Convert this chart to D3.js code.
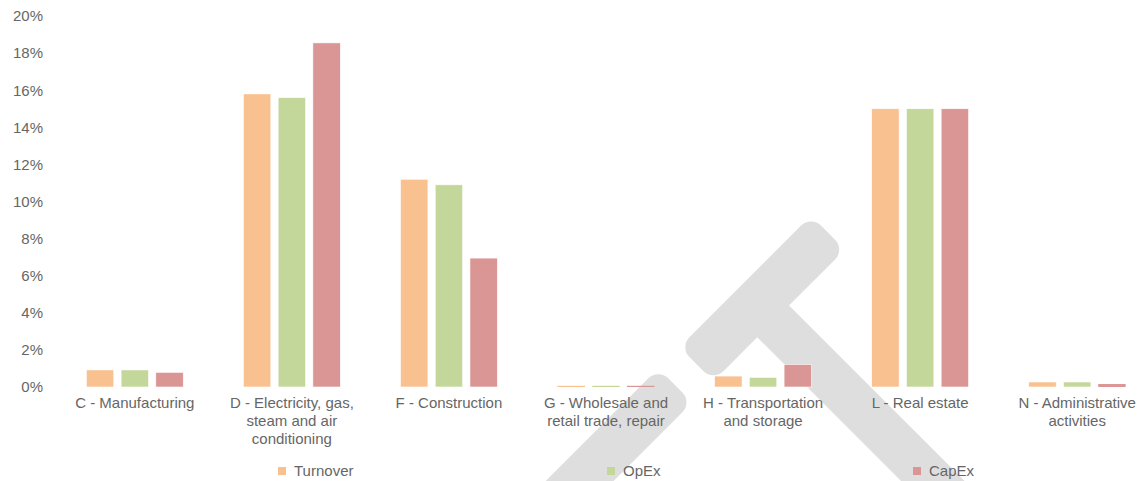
<!DOCTYPE html>
<html>
<head>
<meta charset="utf-8">
<script src="https://cdn.jsdelivr.net/npm/d3@7"></script>
<style>
  body { margin: 0; background: #fff; }
  svg text { font-family: "Liberation Sans", Arial, sans-serif; fill: #666; }
</style>
</head>
<body>
<div class="vis-bars"></div>
<script>
const categories = [
  "C - Manufacturing",
  "D - Electricity, gas, steam and air conditioning",
  "F - Construction",
  "G - Wholesale and retail trade, repair",
  "H - Transportation and storage",
  "L - Real estate",
  "N - Administrative activities"
];
// how the axis labels break onto lines
const categoryLines = [
  ["C - Manufacturing"],
  ["D - Electricity, gas,", "steam and air", "conditioning"],
  ["F - Construction"],
  ["G - Wholesale and", "retail trade, repair"],
  ["H - Transportation", "and storage"],
  ["L - Real estate"],
  ["N - Administrative", "activities"]
];
const seriesNames = ["Turnover", "OpEx", "CapEx"];
const turnover = [0.92, 15.8, 11.2, 0.05, 0.59, 15.0, 0.27];
const opex = [0.92, 15.6, 10.9, 0.05, 0.52, 15.0, 0.27];
const capex = [0.79, 18.55, 6.95, 0.05, 1.22, 15.0, 0.16];
const yTicks = [0, 2, 4, 6, 8, 10, 12, 14, 16, 18, 20];
const colors = ["#F9C090", "#C4D79B", "#DA9694"];

const width = 1143;
const height = 481;
const margin = { top: 16, bottom: 94, left: 56.5, right: -12.5 };

const svg = d3.select(".vis-bars")
  .append("svg")
  .attr("width", width)
  .attr("height", height);

// watermark behind the chart (rotated rounded bars)
const wm = svg.append("g")
  .attr("transform", "rotate(45)")
  .attr("fill", "#DEDEDE");
wm.append("rect").attr("x", 750).attr("y", -342).attr("width", 420).attr("height", 45).attr("rx", 14);
wm.append("rect").attr("x", 726).attr("y", -421).attr("width", 48).attr("height", 186).attr("rx", 14);
wm.append("rect").attr("x", 726).attr("y", -205).attr("width", 48).attr("height", 320).attr("rx", 14);

const x0 = d3.scaleBand()
  .domain(categories)
  .range([margin.left, width - margin.right])
  .paddingInner(0.383)
  .paddingOuter(0.19);

const x1 = d3.scaleBand()
  .domain(seriesNames)
  .range([0, x0.bandwidth()])
  .paddingInner(0.21);

const y = d3.scaleLinear()
  .domain([0, 20])
  .range([height - margin.bottom, margin.top]);

const rows = categories.map((c, i) => ({
  cat: c,
  values: [turnover[i], opex[i], capex[i]]
}));

// y axis labels, no line
const yAxis = svg.append("g")
  .attr("transform", "translate(43,0)")
  .call(d3.axisLeft(y).tickValues(yTicks).tickSize(0).tickPadding(0).tickFormat(d => d + "%"));
yAxis.select(".domain").remove();
yAxis.selectAll("text")
  .style("font-size", "15px")
  .attr("fill", "#666");

const groups = svg.append("g")
  .selectAll("g")
  .data(rows)
  .enter()
  .append("g")
  .attr("transform", d => `translate(${x0(d.cat)},0)`);

groups.selectAll("rect")
  .data(d => d.values.map((v, k) => ({ name: seriesNames[k], v: v, k: k })))
  .enter()
  .append("rect")
  .attr("x", d => x1(d.name))
  .attr("y", d => Math.min(y(d.v), y(0) - 1.2))
  .attr("width", x1.bandwidth())
  .attr("height", d => Math.max(1.2, y(0) - y(d.v)))
  .attr("fill", d => colors[d.k])
  .attr("stroke", d => (y(0) - y(d.v) < 3 ? "none" : "#fff"))
  .attr("stroke-width", 0.6);

// category labels
const labels = svg.append("g")
  .selectAll("text")
  .data(rows)
  .enter()
  .append("text")
  .attr("x", d => x0(d.cat) + x0.bandwidth() / 2)
  .attr("y", 408)
  .attr("text-anchor", "middle")
  .style("font-size", "15px");
labels.each(function (d, i) {
  d3.select(this).selectAll("tspan")
    .data(categoryLines[i])
    .enter()
    .append("tspan")
    .attr("x", x0(d.cat) + x0.bandwidth() / 2)
    .attr("dy", (t, j) => j === 0 ? 0 : 18)
    .text(t => t);
});

// legend
const legendX = [278, 607, 913];
const legend = svg.append("g")
  .selectAll("g")
  .data(seriesNames)
  .enter()
  .append("g")
  .attr("transform", (d, i) => `translate(${legendX[i]},467)`);
legend.append("rect")
  .attr("width", 8)
  .attr("height", 8)
  .attr("fill", (d, i) => colors[i]);
legend.append("text")
  .attr("x", 16)
  .attr("y", 8.5)
  .style("font-size", "15px")
  .text(d => d);
</script>
</body>
</html>
